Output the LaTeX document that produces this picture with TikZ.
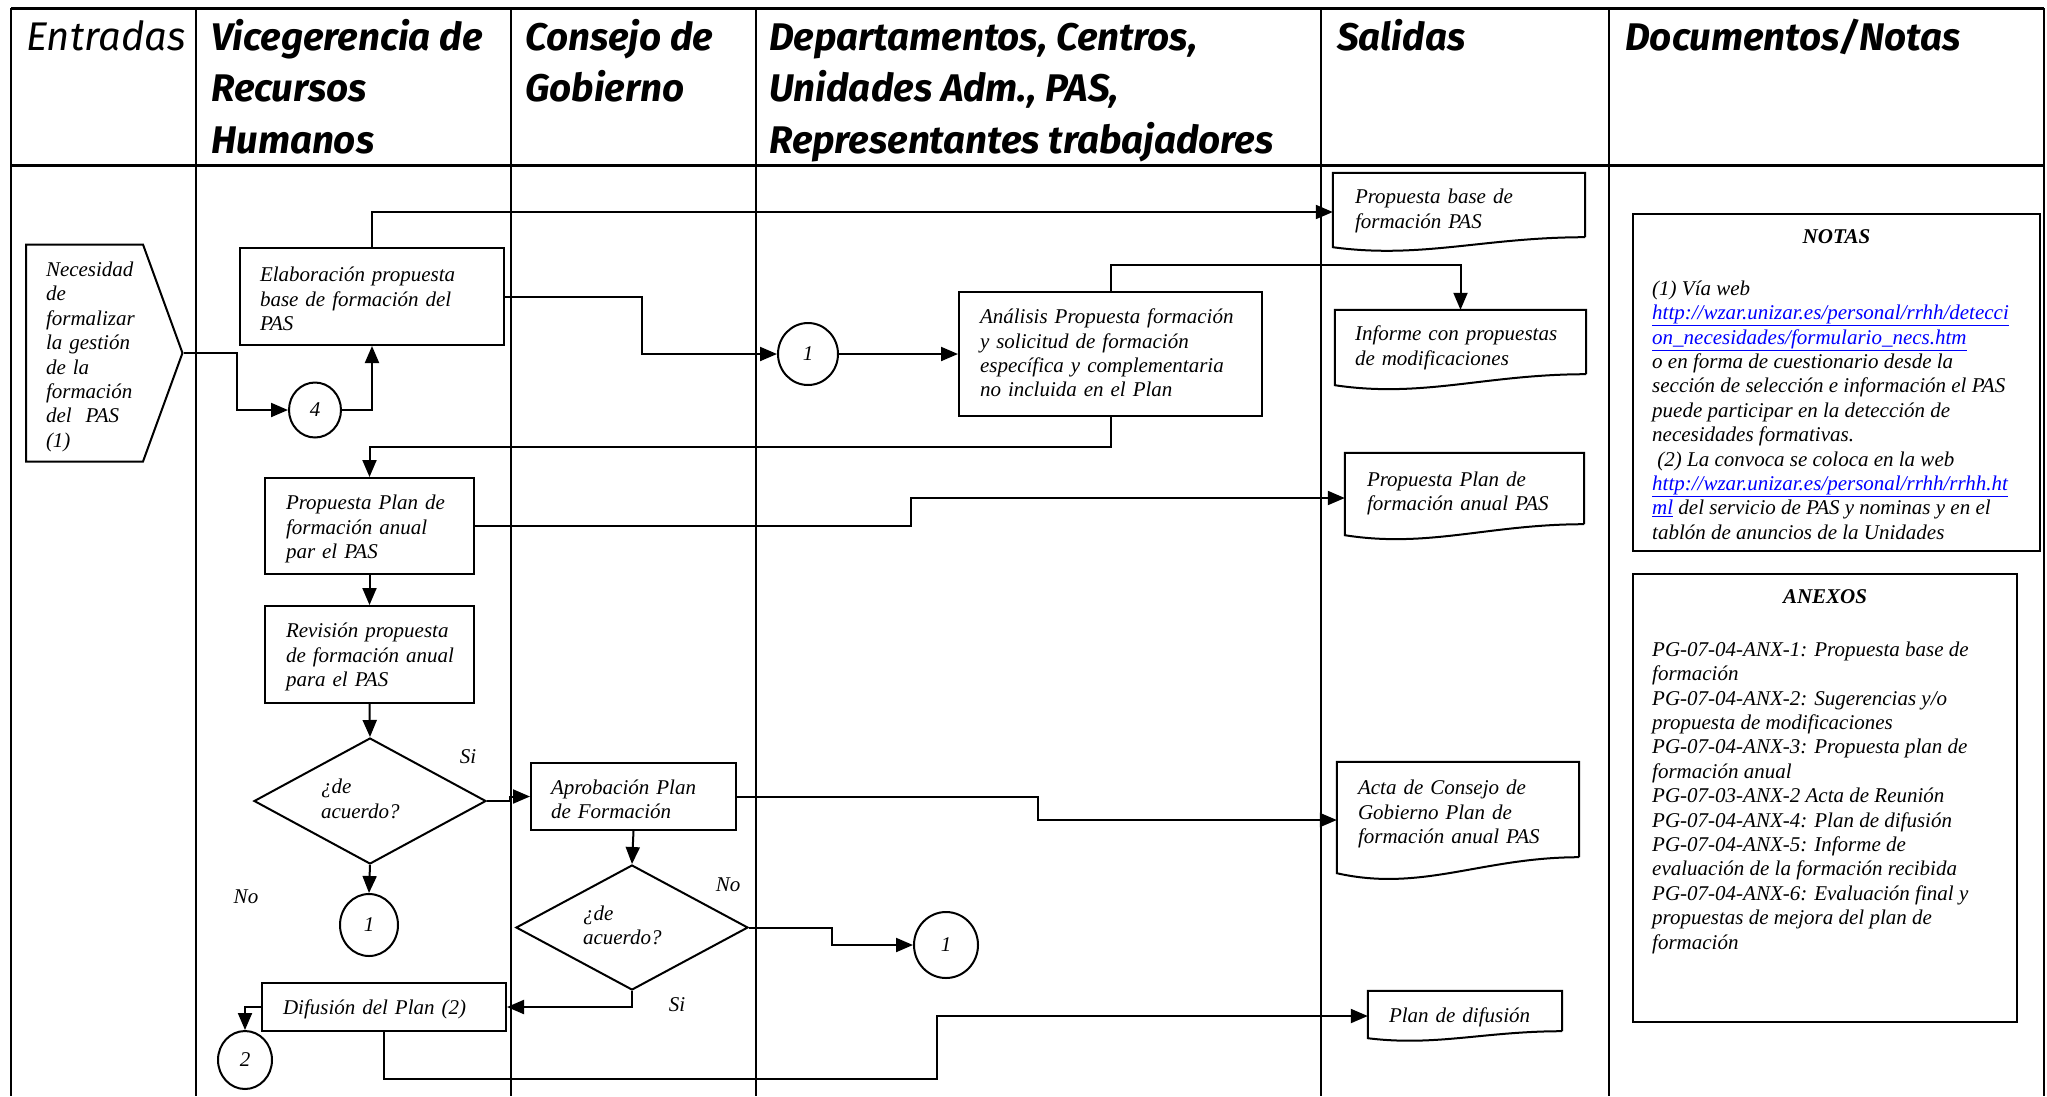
\documentclass[tikz,border=0pt]{standalone}
\usepackage{fontspec}
\setmainfont{Liberation Serif}
\newfontfamily\hdrfont{Fira Sans}
\usetikzlibrary{shapes.geometric,shapes.symbols,arrows.meta,calc}
\newcommand\ls[1]{\begin{tabular}[c]{@{}l@{}}#1\end{tabular}}
\newcommand\lsd[2][-4pt]{\raisebox{#1}[\height][\depth]{\begin{tabular}[c]{@{}l@{}}#2\end{tabular}}}
\newcommand\lnk[1]{\textcolor{blue}{\underline{#1}}}
\newcommand\docout[2]{\draw[ln,line join=miter] (#1.south east) -- (#1.north east) -- (#1.north west) -- ($(#1.south west)+(0,#2)$) .. controls ($(#1.south west)!0.35!(#1.south east)+(0,{2.2*#2})$) and ($(#1.south west)!0.6!(#1.south east)$) .. (#1.south east);}
\begin{document}
\begin{tikzpicture}[x=1pt,y=-1pt,
  tbl/.style={line width=2.5pt},
  tblh/.style={line width=3pt},
  ln/.style={line width=2pt},
  arr/.style={line width=2pt,-{Triangle[length=17pt,width=14pt]}},
  body/.style={font=\fontsize{21}{24.4}\selectfont\itshape},
  bodyb/.style={font=\fontsize{21}{24.4}\selectfont\bfseries\itshape},
  hdr/.style={anchor=north west, inner sep=0pt, font=\hdrfont\fontsize{38.5}{51.5}\selectfont\bfseries\itshape},
  proc/.style={draw, line width=2pt, body, align=left, inner ysep=0pt},
  doc/.style={body, align=left, inner ysep=0pt},
  conn/.style={draw, ellipse, line width=2pt, inner sep=0pt, body},
  dec/.style={draw, diamond, aspect=1.84, line width=2pt, inner sep=0pt, body, align=left, text width=98pt},
  lbl/.style={body, inner sep=0pt},
  notebox/.style={draw, line width=2pt, inner sep=0pt},
]
\fill[white] (0,0) rectangle (2047,1096);
\useasboundingbox (0,0) rectangle (2047,1096);

% table
\draw[tblh] (11,8) -- (2044,8);
\draw[tblh] (11,165) -- (2044,165);
\foreach \x in {11,196,511,756,1321,1609,2044} \draw[tbl] (\x,8) -- (\x,1096);

% headers
\node[hdr, font=\hdrfont\fontsize{40}{51.5}\selectfont\itshape] (hEnt) at (26,14) {\ls{Entradas}};
\node[hdr] (hVic) at (211,14) {\ls{Vicegerencia de\\Recursos\\Humanos}};
\node[hdr] (hCon) at (525,14) {\ls{Consejo de\\Gobierno}};
\node[hdr] (hDep) at (769,14) {\ls{Departamentos, Centros,\\Unidades Adm., PAS,\\Representantes trabajadores}};
\node[hdr] (hSal) at (1337,14) {\ls{Salidas}};
\node[hdr] (hDoc) at (1625,14) {\ls{Documentos/Notas}};

% flow nodes
\node[draw, line width=2pt, signal, signal to=east, signal from=nowhere, signal pointer angle=140,
  minimum height=217pt, text width=77pt, inner xsep=20pt, inner ysep=0pt, body, align=left, anchor=west]
  (nec) at (25,353) {\lsd{Necesidad\\de\\formalizar\\la gestión\\de la\\formación\\del\ \ PAS\\(1)}};

\node[proc, minimum width=264pt, minimum height=97pt, text width=224pt, inner xsep=20pt] (elab) at (372,296.5)
  {\lsd[-5pt]{Elaboración propuesta\\base de formación del\\PAS}};
\node[proc, minimum width=303pt, minimum height=124pt, text width=261pt, inner xsep=21pt] (anal) at (1110.5,354)
  {\lsd[-1.5pt]{Análisis Propuesta formación\\y solicitud de formación\\específica y complementaria\\no incluida en el Plan}};
\node[proc, minimum width=209pt, minimum height=96pt, text width=167pt, inner xsep=21pt] (pplan) at (369.5,526)
  {\lsd[-3.5pt]{Propuesta Plan de\\formación anual\\par el PAS}};
\node[proc, minimum width=209pt, minimum height=97pt, text width=167pt, inner xsep=21pt] (revis) at (369.5,654.5)
  {\lsd[-3pt]{Revisión propuesta\\de formación anual\\para el PAS}};
\node[proc, minimum width=205pt, minimum height=67pt, text width=165pt, inner xsep=20pt] (aprob) at (633.5,796.5)
  {\lsd[-5pt]{Aprobación Plan\\de Formación}};
\node[proc, minimum width=244pt, minimum height=48pt, text width=202pt, inner xsep=21pt] (difus) at (384,1007)
  {\lsd[-3pt]{Difusión del Plan (2)}};

\node[conn, minimum width=52pt, minimum height=55pt] (c4) at (315,410) {4};
\node[conn, minimum width=60pt, minimum height=62pt] (c1a) at (808,354) {1};
\node[conn, minimum width=58pt, minimum height=62pt] (c1b) at (369,925) {1};
\node[conn, minimum width=64pt, minimum height=66pt] (c1c) at (946,945) {1};
\node[conn, minimum width=54pt, minimum height=58pt] (c2) at (245,1060) {2};

\node[dec, minimum width=232pt, minimum height=126pt] (dia1) at (370,801) {\ls{¿de\\acuerdo?}};
\node[dec, minimum width=232pt, minimum height=125pt] (dia2) at (632,927.5) {\ls{¿de\\acuerdo?}};

% documents
\node[doc, minimum width=252pt, minimum height=64pt, text width=208pt, inner xsep=22pt] (d1) at (1459,205) {\lsd[-6pt]{Propuesta base de\\formación PAS}};
\node[doc, minimum width=251pt, minimum height=64pt, text width=211pt, inner xsep=20pt] (d2) at (1460.5,342) {\lsd[-6pt]{Informe con propuestas\\de modificaciones}};
\node[doc, minimum width=239pt, minimum height=71pt, text width=195pt, inner xsep=22pt] (d3) at (1464.5,488.5) {\lsd[-5pt]{Propuesta Plan de\\formación anual PAS}};
\node[doc, minimum width=242pt, minimum height=95pt, text width=200pt, inner xsep=21pt] (d4) at (1458,809.5) {\lsd[-5pt]{Acta de Consejo de\\Gobierno Plan de\\formación anual PAS}};
\node[doc, minimum width=194pt, minimum height=40pt, text width=152pt, inner xsep=21pt] (d5) at (1465,1011) {\lsd[-7pt]{Plan de difusión}};
\docout{d1}{10}
\docout{d2}{11}
\docout{d3}{11}
\docout{d4}{16}
\docout{d5}{7}

% labels
\node[lbl] (si1) at (468,757) {Si};
\node[lbl] (no1) at (246,897) {No};
\node[lbl] (no2) at (728,885) {No};
\node[lbl] (si2) at (677,1005) {Si};

% connectors
\draw[arr] (nec.east) -- ++(53,0) |- (c4.west);
\draw[arr] (c4.east) -| (elab.south);
\draw[arr] (elab.north) |- ([yshift=-7pt]d1.west);
\draw[arr] (elab.east) -- ++(137,0) |- (c1a.west);
\draw[arr] (c1a.east) -- (anal.west);
\draw[arr] (anal.north) -- ++(0,-26) -| (d2.north);
\draw[arr] (anal.south) -- ++(0,30) -| (pplan.north);
\draw[arr] (pplan.east) -- ++(436,0) |- ([yshift=-9.5pt]d3.west);
\draw[arr] (pplan.south) -- (revis.north);
\draw[arr] (revis.south) -- (dia1.north);
\draw[arr] (dia1.east) -- ++(23,0) |- (aprob.west);
\draw[arr] (aprob.east) -- ++(301,0) |- ([yshift=-10.5pt]d4.west);
\draw[arr] (dia1.south) -- (c1b.north);
\draw[arr] (aprob.south) -- (dia2.north);
\draw[arr] (dia2.east) -- ++(83,0) |- (c1c.west);
\draw[arr] (dia2.south) |- (difus.east);
\draw[arr] (difus.west) -| (c2.north);
\draw[arr] (difus.south) -- ++(0,47) -- ++(553,0) |- ([yshift=-5pt]d5.west);

% notes
\node[notebox, minimum width=407pt, minimum height=337pt] (notas) at (1836.5,382.5) {};
\node[bodyb] (notasT) at ($(notas.north)+(0,24)$) {NOTAS};
\node[body, anchor=north west, inner sep=0pt] (notasB) at ($(notas.north west)+(20,65)$)
  {\ls{(1) Vía web\\\lnk{http://wzar.unizar.es/personal/rrhh/detecci}\\\lnk{on\_necesidades/formulario\_necs.htm}\\o en forma de cuestionario desde la\\sección de selección e información el PAS\\puede participar en la detección de\\necesidades formativas.\\\ (2) La convoca se coloca en la web\\\lnk{http://wzar.unizar.es/personal/rrhh/rrhh.ht}\\\lnk{ml} del servicio de PAS y nominas y en el\\tablón de anuncios de la Unidades}};

\node[notebox, minimum width=384pt, minimum height=448pt] (anex) at (1825,798) {};
\node[bodyb] (anexT) at ($(anex.north)+(0,24)$) {ANEXOS};
\node[body, anchor=north west, inner sep=0pt] (anexB) at ($(anex.north west)+(20,66)$)
  {\ls{PG-07-04-ANX-1: Propuesta base de\\formación\\PG-07-04-ANX-2: Sugerencias y/o\\propuesta de modificaciones\\PG-07-04-ANX-3: Propuesta plan de\\formación anual\\PG-07-03-ANX-2 Acta de Reunión\\PG-07-04-ANX-4: Plan de difusión\\PG-07-04-ANX-5: Informe de\\evaluación de la formación recibida\\PG-07-04-ANX-6: Evaluación final y\\propuestas de mejora del plan de\\formación}};
\end{tikzpicture}
\end{document}
